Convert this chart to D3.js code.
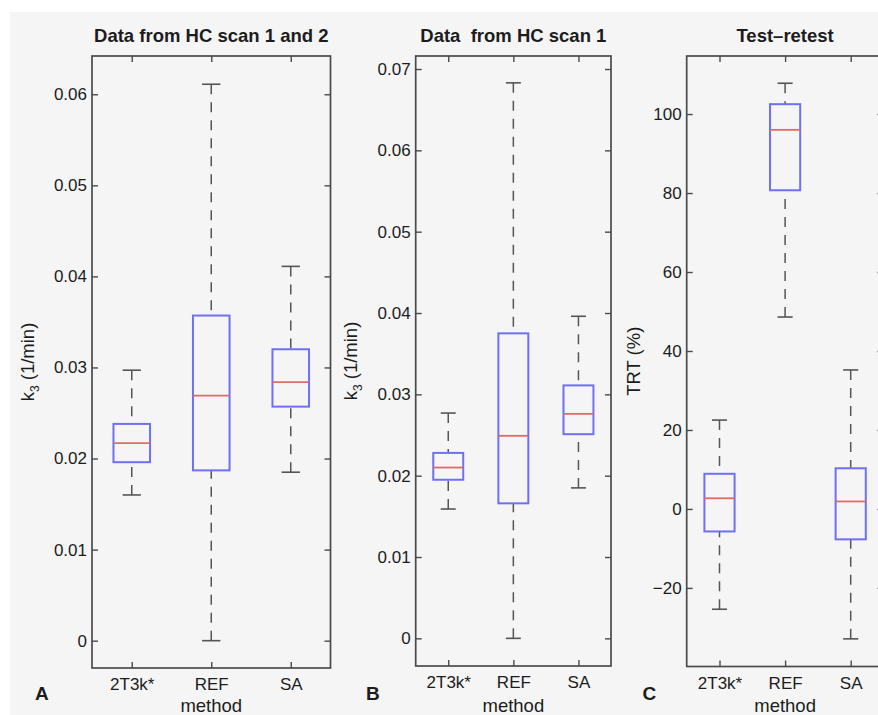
<!DOCTYPE html>
<html>
<head>
<meta charset="utf-8">
<script src="https://cdn.jsdelivr.net/npm/d3@7"></script>
<style>
  body { margin: 0; background: #fff; }
  svg { display: block; font-family: "Liberation Sans", Arial, Helvetica, sans-serif; }
</style>
</head>
<body>
<script>
const methods = ["2T3k*", "REF", "SA"];

// five-number summaries per method: [lower whisker, q1, median, q3, upper whisker]
const scan12Stats = [
    [0.0160, 0.0196, 0.0217, 0.0238, 0.0297],
    [0.0000, 0.0187, 0.0269, 0.0357, 0.0611],
    [0.0185, 0.0257, 0.0284, 0.0320, 0.0411]
];
const scan1Stats = [
    [0.0159, 0.0195, 0.0210, 0.0228, 0.0277],
    [0.0000, 0.0166, 0.0249, 0.0375, 0.0683],
    [0.0185, 0.0251, 0.0276, 0.0311, 0.0396]
];
const trtStats = [
    [-25.4, -5.7, 2.7, 8.9, 22.5],
    [48.6, 80.7, 96.0, 102.5, 107.8],
    [-32.9, -7.7, 1.9, 10.3, 35.2]
];

const scan12Domain = [-0.003, 0.0642];
const scan1Domain = [-0.0034, 0.0716];
const trtDomain = [-39.9, 114.7];

const scan12Ticks = [0, 0.01, 0.02, 0.03, 0.04, 0.05, 0.06];
const scan1Ticks = [0, 0.01, 0.02, 0.03, 0.04, 0.05, 0.06, 0.07];
const trtTicks = [-20, 0, 20, 40, 60, 80, 100];

const panelTitles = ["Data from HC scan 1 and 2", "Data  from HC scan 1", "Test\u2013retest"];
const panelLetters = ["A", "B", "C"];

const W = 878, H = 715;
const svg = d3.select("body").append("svg")
    .attr("width", W)
    .attr("height", H);

svg.append("rect")
    .attr("x", 10).attr("y", 12)
    .attr("width", W - 10).attr("height", H - 12)
    .attr("fill", "#f5f5f5");

const panels = [
    { stats: scan12Stats, domain: scan12Domain, ticks: scan12Ticks, ylabel: "k3",
      left: 92, right: 330.5, top: 56, bottom: 668, labelX: 33.5, letterX: 35 },
    { stats: scan1Stats, domain: scan1Domain, ticks: scan1Ticks, ylabel: "k3",
      left: 415.7, right: 611, top: 56, bottom: 666, labelX: 357, letterX: 366 },
    { stats: trtStats, domain: trtDomain, ticks: trtTicks, ylabel: "TRT",
      left: 686.7, right: 883.5, top: 56, bottom: 666.5, labelX: 640, letterX: 642.5 }
];

const axisColor = "#4a4a4a";
const textColor = "#1c1c1c";
const fmt = d3.format("~g");

panels.forEach((p, k) => {
    const g = svg.append("g");
    const x = d3.scalePoint().domain(methods).range([p.left, p.right]).padding(0.5);
    const y = d3.scaleLinear().domain(p.domain).range([p.bottom, p.top]);
    const bw = x.step() * 0.46;
    const cw = bw / 2;

    // boxes
    const boxes = g.selectAll("g.box")
        .data(p.stats.map((s, i) => ({ m: methods[i], s: s })))
        .join("g")
        .attr("class", "box");

    boxes.append("line")
        .attr("x1", d => x(d.m)).attr("x2", d => x(d.m))
        .attr("y1", d => y(d.s[4])).attr("y2", d => y(d.s[3]))
        .attr("stroke", "#555").attr("stroke-width", 1.5)
        .attr("stroke-dasharray", "10,8");
    boxes.append("line")
        .attr("x1", d => x(d.m)).attr("x2", d => x(d.m))
        .attr("y1", d => y(d.s[0])).attr("y2", d => y(d.s[1]))
        .attr("stroke", "#555").attr("stroke-width", 1.5)
        .attr("stroke-dasharray", "10,8");

    [0, 4].forEach(j => {
        boxes.append("line")
            .attr("x1", d => x(d.m) - cw / 2).attr("x2", d => x(d.m) + cw / 2)
            .attr("y1", d => y(d.s[j])).attr("y2", d => y(d.s[j]))
            .attr("stroke", "#555").attr("stroke-width", 1.6);
    });

    boxes.append("rect")
        .attr("x", d => x(d.m) - bw / 2)
        .attr("y", d => y(d.s[3]))
        .attr("width", bw)
        .attr("height", d => y(d.s[1]) - y(d.s[3]))
        .attr("fill", "none")
        .attr("stroke", "#6f6ff7").attr("stroke-width", 2);

    boxes.append("line")
        .attr("x1", d => x(d.m) - bw / 2).attr("x2", d => x(d.m) + bw / 2)
        .attr("y1", d => y(d.s[2])).attr("y2", d => y(d.s[2]))
        .attr("stroke", "#e06a6a").attr("stroke-width", 1.8);

    // axes, ticks point inward
    const yAxis = g.append("g")
        .attr("transform", `translate(${p.left},0)`)
        .call(d3.axisLeft(y).tickValues(p.ticks).tickFormat(fmt).tickSize(-6).tickPadding(5));
    const yAxisR = g.append("g")
        .attr("transform", `translate(${p.right},0)`)
        .call(d3.axisRight(y).tickValues(p.ticks).tickFormat("").tickSize(-6));
    const xAxis = g.append("g")
        .attr("transform", `translate(0,${p.bottom})`)
        .call(d3.axisBottom(x).tickSize(-6).tickPadding(10));
    const xAxisT = g.append("g")
        .attr("transform", `translate(0,${p.top})`)
        .call(d3.axisTop(x).tickFormat("").tickSize(-6));

    [yAxis, yAxisR, xAxis, xAxisT].forEach(a => {
        a.select(".domain").remove();
        a.selectAll(".tick line").attr("stroke", axisColor).attr("stroke-width", 1.4);
        a.attr("font-size", 17).attr("font-family", null);
        a.selectAll("text").attr("fill", textColor);
    });

    g.append("rect")
        .attr("x", p.left).attr("y", p.top)
        .attr("width", p.right - p.left).attr("height", p.bottom - p.top)
        .attr("fill", "none")
        .attr("stroke", axisColor).attr("stroke-width", 1.7);

    const cx = (p.left + p.right) / 2;
    g.append("text")
        .attr("x", cx).attr("y", 41.5)
        .attr("text-anchor", "middle")
        .attr("font-size", 18.5).attr("font-weight", "bold")
        .attr("fill", textColor)
        .style("white-space", "pre")
        .text(panelTitles[k]);

    g.append("text")
        .attr("x", cx).attr("y", 712)
        .attr("text-anchor", "middle")
        .attr("font-size", 18.5)
        .attr("fill", textColor)
        .text("method");

    g.append("text")
        .attr("x", p.letterX).attr("y", 700)
        .attr("font-size", 19).attr("font-weight", "bold")
        .attr("fill", textColor)
        .text(panelLetters[k]);

    const yl = g.append("text")
        .attr("transform", `translate(${p.labelX},${(p.top + p.bottom) / 2}) rotate(-90)`)
        .attr("text-anchor", "middle")
        .attr("font-size", 18.5)
        .attr("fill", textColor);
    if (p.ylabel === "k3") {
        yl.append("tspan").text("k");
        yl.append("tspan").attr("font-size", 12).attr("dy", 5).text("3");
        yl.append("tspan").attr("dy", -5).text(" (1/min)");
    } else {
        yl.text("TRT (%)");
    }
});
</script>
</body>
</html>
